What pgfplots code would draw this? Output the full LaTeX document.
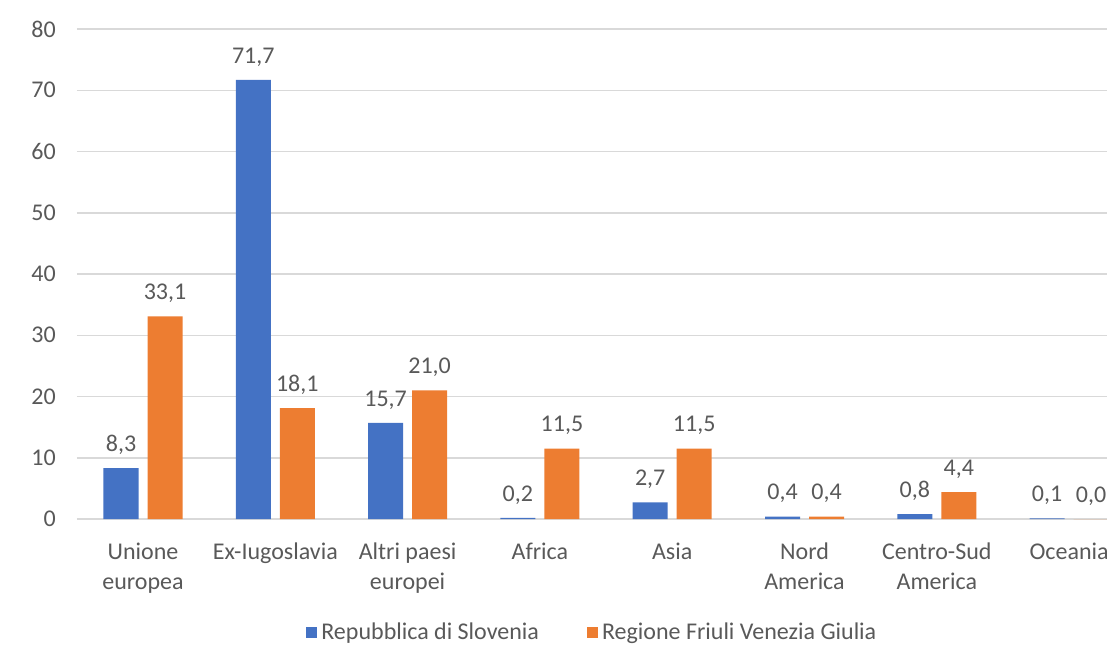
\documentclass[border=0pt]{standalone}
\usepackage{pgfplots}
\pgfplotsset{compat=1.18}
\usepackage{fontspec}
\setmainfont{Carlito}
\definecolor{slo}{HTML}{4472C4}
\definecolor{fvg}{HTML}{ED7D31}
\definecolor{txt}{HTML}{595959}
\definecolor{gridc}{HTML}{D9D9D9}
\begin{document}
\begin{tikzpicture}
\path[use as bounding box, clip] (-71.5pt,-62.5pt) rectangle (482pt,259.5pt);
\begin{axis}[
  at={(0,0)}, anchor=origin,
  x=66.15pt, y=3.0625pt,
  xmin=-0.5, xmax=7.5, ymin=0, ymax=80,
  ybar=4.5pt, bar width=17.5pt,
  axis x line*=bottom, axis y line*=left,
  x axis line style={draw=gridc, line width=0.75pt, -},
  y axis line style={draw=none},
  ymajorgrids, grid style={draw=gridc, line width=0.75pt},
  major tick length=0pt,
  ytick={0,10,...,80},
  xtick={0,...,7},
  xticklabels={Unione\\europea, Ex-Iugoslavia, Altri paesi\\europei, Africa, Asia, Nord\\America, Centro-Sud\\America, Oceania},
  xticklabel style={align=center, font=\fontsize{12}{15}\selectfont, text=txt, yshift=-8.5pt},
  yticklabel style={font=\fontsize{12}{15}\selectfont, text=txt, xshift=-7pt},
  /pgf/number format/assume math mode=true,
  nodes near coords,
  nodes near coords style={font=\fontsize{12}{15}\selectfont, text=txt, anchor=south, yshift=3.3pt,
    /pgf/number format/.cd, fixed, fixed zerofill, precision=1, use comma},
  legend style={draw=none, at={(rel axis cs:0.488,-0.231)}, anchor=center,
    font=\fontsize{12}{15}\selectfont, text=txt, legend columns=2,
    /tikz/every even column/.append style={column sep=22pt}},
  legend image code/.code={\fill[#1] (0pt,-2.75pt) rectangle (5.5pt,2.75pt);},
]
\addplot[fill=slo, draw=none] coordinates {(0,8.3) (1,71.7) (2,15.7) (3,0.2) (4,2.7) (5,0.4) (6,0.8) (7,0.1)};
\addplot[fill=fvg, draw=none] coordinates {(0,33.1) (1,18.1) (2,21.0) (3,11.5) (4,11.5) (5,0.4) (6,4.4) (7,0.0)};
\legend{Repubblica di Slovenia, Regione Friuli Venezia Giulia}
\end{axis}
\end{tikzpicture}
\end{document}
